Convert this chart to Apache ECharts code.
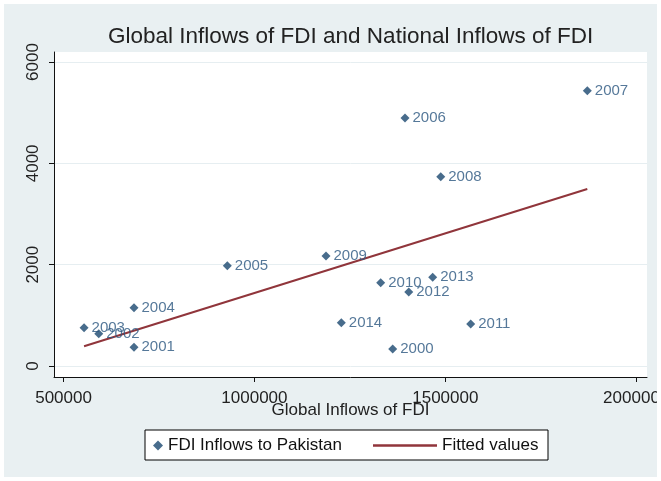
<!DOCTYPE html>
<html>
<head>
<meta charset="utf-8">
<script src="https://cdn.jsdelivr.net/npm/echarts@6/dist/echarts.min.js"></script>
<style>
    html, body { margin: 0; padding: 0; background: #fff; }
    #container_fdi { width: 661px; height: 481px; }
</style>
</head>
<body>
<div id="container_fdi"></div>
<script>
// Values
var years = ['2000', '2001', '2002', '2003', '2004', '2005', '2006', '2007',
             '2008', '2009', '2010', '2011', '2012', '2013', '2014'];
var globalInflows = [1362200, 684600, 592200, 553700, 684600, 929000, 1394400, 1871900,
                     1488000, 1187500, 1330800, 1566500, 1404200, 1467000, 1227600];
var pakInflows = [335, 369, 638, 756, 1151, 1980, 4895, 5434,
                  3737, 2171, 1644, 829, 1461, 1751, 855];
// Fitted line end points
var fitX = [553700, 1871900];
var fitY = [389, 3494];
var xTicks = [500000, 1000000, 1500000, 2000000];
var yTicks = [0, 2000, 4000, 6000];

var scatterData = [];
for (var i = 0; i < years.length; i++) {
    scatterData.push([globalInflows[i], pakInflows[i], years[i]]);
}
var fitData = [];
for (var j = 0; j < fitX.length; j++) {
    fitData.push([fitX[j], fitY[j]]);
}

function plainNum(v) { return String(Math.round(v)); }

var fontName = 'Liberation Sans';
var fdi_chart = echarts.init(document.getElementById('container_fdi'));

var option_fdi = {
    backgroundColor: '#e9f0f2',
    animation: false,
    textStyle: { fontFamily: fontName },
    title: {
        text: 'Global Inflows of FDI and National Inflows of FDI',
        left: 108,
        top: 25,
        padding: 0,
        textStyle: { fontFamily: fontName, fontSize: 22.5, fontWeight: 'normal', color: '#222' }
    },
    grid: {
        left: 54, right: 14, top: 52, bottom: 104,
        show: true, backgroundColor: '#fff', borderWidth: 0,
        outerBoundsMode: 'none'
    },
    xAxis: {
        type: 'value',
        min: 475000, max: 2028300,
        name: 'Global Inflows of FDI',
        nameLocation: 'middle',
        nameGap: 25,
        nameMoveOverlap: false,
        nameTextStyle: { fontFamily: fontName, fontSize: 17, color: '#222' },
        axisLine: { show: true, onZero: false, lineStyle: { color: '#111', width: 1 } },
        axisTick: { show: true, length: 5, customValues: xTicks, lineStyle: { color: '#111' } },
        axisLabel: { customValues: xTicks, margin: 13, fontSize: 17, color: '#222',
                     fontFamily: fontName, formatter: plainNum },
        splitLine: { show: false }
    },
    yAxis: {
        type: 'value',
        min: -217, max: 6198,
        axisLine: { show: true, onZero: false, lineStyle: { color: '#111', width: 1 } },
        axisTick: { show: true, length: 5, customValues: yTicks, lineStyle: { color: '#111' } },
        axisLabel: { customValues: yTicks, rotate: 90, margin: 12, fontSize: 17, color: '#222',
                     fontFamily: fontName, formatter: plainNum },
        splitLine: { show: true, customValues: yTicks, lineStyle: { color: '#e6eef1', width: 1 } }
    },
    legend: [
        {
            left: 153, top: 437, padding: 0,
            selectedMode: false,
            itemWidth: 10, itemHeight: 10,
            data: [{ name: 'FDI Inflows to Pakistan', icon: 'diamond' }],
            textStyle: { fontFamily: fontName, fontSize: 17, color: '#111' }
        },
        {
            left: 373, top: 437, padding: 0,
            selectedMode: false,
            itemWidth: 64, itemHeight: 2.5,
            data: [{ name: 'Fitted values', icon: 'rect' }],
            textStyle: { fontFamily: fontName, fontSize: 17, color: '#111' }
        }
    ],
    graphic: [
        {
            type: 'rect', z: 1,
            shape: { x: 145, y: 430, width: 403, height: 30 },
            style: { fill: '#fff', stroke: '#000', lineWidth: 1 }
        },
        {
            type: 'rect', z: 100, silent: true,
            shape: { x: 0, y: 0, width: 661, height: 481 },
            style: { fill: 'none', stroke: '#fff', lineWidth: 8 }
        }
    ],
    series: [
        {
            name: 'FDI Inflows to Pakistan',
            type: 'scatter',
            symbol: 'diamond',
            symbolSize: 9,
            itemStyle: { color: '#1a476f' },
            label: {
                show: true, position: 'right', distance: 3,
                fontSize: 15, color: '#2a5680', fontFamily: fontName,
                formatter: function (p) { return p.value[2]; }
            },
            data: scatterData,
            z: 3
        },
        {
            name: 'Fitted values',
            type: 'line',
            symbol: 'none',
            lineStyle: { color: '#90353b', width: 2 },
            itemStyle: { color: '#90353b' },
            data: fitData,
            z: 2
        }
    ]
};

fdi_chart.setOption(option_fdi);
</script>
</body>
</html>
